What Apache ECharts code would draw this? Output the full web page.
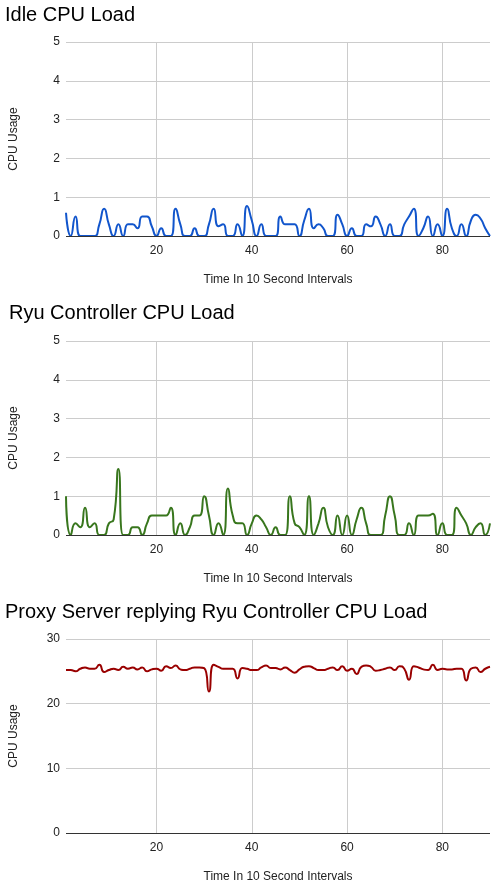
<!DOCTYPE html>
<html><head><meta charset="utf-8">
<script src="https://cdn.jsdelivr.net/npm/echarts@6/dist/echarts.min.js"></script>
<style>html,body{margin:0;padding:0;background:#fff}#c{width:503px;height:887px}</style>
</head><body><div id="c"></div>
<script>
const titles = ["Idle CPU Load", "Ryu Controller CPU Load", "Proxy Server replying Ryu Controller CPU Load"];
const xName = "Time In 10 Second Intervals";
const yName = "CPU Usage";
const xTicks = [20, 40, 60, 80];
const idle = [0.6,0,0.5,0,0,0,0,0.3,0.7,0.3,0,0.3,0,0.3,0.3,0.2,0.5,0.5,0.25,0,0.2,0,0,0.7,0.3,0,0,0.2,0,0,0.3,0.7,0.25,0.3,0,0,0.3,0,0.77,0.4,0,0.3,0,0,0,0.5,0.3,0.3,0.3,0,0.4,0.7,0.2,0.3,0.2,0,0,0.55,0.3,0,0.2,0,0,0.3,0.25,0.5,0.3,0,0.3,0,0,0.3,0.5,0.7,0,0.2,0.5,0,0.3,0,0.7,0.2,0,0.3,0,0.4,0.55,0.45,0.2,0];
const ryu = [1.0,0,0.3,0.2,0.7,0.2,0.3,0,0,0.3,0.4,1.7,0,0,0.2,0.2,0,0.3,0.5,0.5,0.5,0.5,0.7,0,0.3,0,0.2,0.5,0.5,1.0,0.5,0,0.3,0,1.2,0.5,0.3,0.3,0,0.3,0.5,0.4,0.2,0,0.2,0,0,1.0,0.3,0.2,0,1.0,0,0.3,0.7,0.2,0,0.5,0,0.5,0,0.4,0.7,0.3,0,0,0,0.5,1.0,0.5,0,0,0.3,0,0.5,0.5,0.5,0.55,0,0.3,0,0,0.7,0.5,0.3,0,0.2,0.3,0,0.3];
const proxy = [25.2,25.2,25.0,25.4,25.6,25.4,25.4,26.0,24.9,25.2,25.4,25.2,25.7,25.4,25.6,25.3,25.6,25.0,25.3,25.4,25.1,25.8,25.5,25.9,25.3,25.2,25.4,25.6,25.6,25.5,21.9,26.0,25.7,25.4,25.4,25.4,23.9,25.5,25.4,25.2,25.2,25.6,25.9,25.5,25.5,25.3,25.6,25.2,24.8,25.3,25.7,25.8,25.5,25.2,25.2,25.4,25.6,25.2,25.8,25.1,25.4,24.6,25.7,25.9,25.7,25.1,25.2,25.4,25.6,25.2,25.8,25.4,23.7,25.8,25.6,25.3,25.2,26.0,25.2,25.4,25.3,25.3,25.4,25.4,23.6,25.4,25.6,24.9,25.4,25.7];
const yMax = [5, 5, 30];
const yStep = [1, 1, 10];
const colors = ["#1155cc", "#38761d", "#990000"];
const seriesData = [idle, ryu, proxy];

const tops = [42, 341, 639];
const titleTops = [5, 303, 602];
const titleLefts = [5, 9, 5];
const font = "Arial, 'Liberation Sans', sans-serif";
const chart = echarts.init(document.getElementById('c'), null, {renderer: 'canvas'});
const option = {
  animation: false,
  title: titles.map((t, i) => ({text: t, left: titleLefts[i], top: titleTops[i], padding: 0,
    textStyle: {fontFamily: font, fontSize: 20, fontWeight: 'normal', color: '#000'}})),
  grid: tops.map(t => ({left: 63, right: 13, top: t, height: 194, containLabel: false})),
  xAxis: tops.map((t, i) => ({
    gridIndex: i, type: 'value', min: 1, max: 90,
    name: xName, nameLocation: 'middle', nameGap: 38,
    nameTextStyle: {fontFamily: font, fontSize: 12, color: '#222'},
    axisLine: {show: false},
    axisTick: {show: false, customValues: xTicks},
    axisLabel: {customValues: xTicks, fontFamily: font, fontSize: 12, color: '#222', margin: 9},
    splitLine: {show: true, lineStyle: {color: '#cccccc', width: 1}}
  })),
  yAxis: tops.map((t, i) => ({
    gridIndex: i, type: 'value', min: 0, max: yMax[i], interval: yStep[i],
    name: yName, nameLocation: 'middle', nameGap: 46,
    nameTextStyle: {fontFamily: font, fontSize: 12, color: '#222'},
    axisLine: {show: false}, axisTick: {show: false},
    axisLabel: {fontFamily: font, fontSize: 12, color: '#222', margin: 6},
    splitLine: {show: true, lineStyle: {color: '#cccccc', width: 1}}
  })),
  series: seriesData.flatMap((d, i) => [
    {
      type: 'line', xAxisIndex: i, yAxisIndex: i,
      data: d.map((v, k) => [k + 1, v]),
      smooth: 0.6, showSymbol: false, symbol: 'none',
      lineStyle: {color: colors[i], width: 2}, itemStyle: {color: colors[i]},
      z: 3
    },
    {
      type: 'line', xAxisIndex: i, yAxisIndex: i, data: [],
      silent: true,
      markLine: {silent: true, symbol: 'none', label: {show: false},
        lineStyle: {color: '#333333', width: 1, type: 'solid'},
        data: [{yAxis: 0}]},
      z: 4
    }
  ])
};
chart.setOption(option);
</script></body></html>
